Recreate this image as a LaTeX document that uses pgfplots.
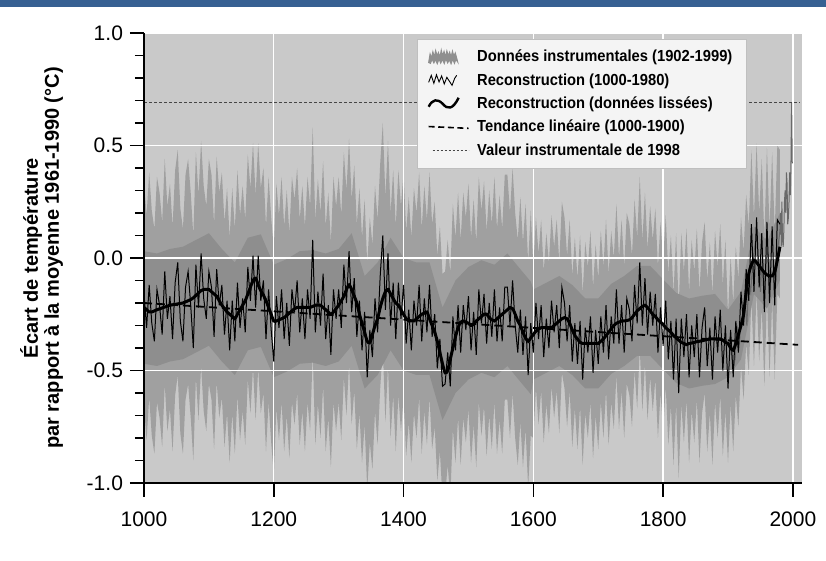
\documentclass[border=0pt]{standalone}
\usepackage{fontspec}
\setmainfont{Liberation Sans}
\newfontfamily\legfont{Liberation Sans}[FakeStretch=0.92]
\usepackage{pgfplots}
\pgfplotsset{compat=1.18}
\usepackage{pgfplotstable}
\usepgfplotslibrary{fillbetween}
\definecolor{headblue}{RGB}{55,96,146}
\definecolor{bggray}{RGB}{201,201,201}
\definecolor{bandgray}{RGB}{160,160,160}
\definecolor{coregray}{RGB}{142,142,142}
\definecolor{instgray}{RGB}{105,105,105}
\definecolor{dotgray}{RGB}{70,70,70}
\definecolor{leggray}{RGB}{244,244,244}

\pgfplotsset{
  layers/mylayers/.define layer set={axis background,pre main,axis grid,main,axis ticks,axis lines,axis tick labels,axis descriptions,axis foreground}{
    grid style={/pgfplots/on layer=axis grid},
    tick style={/pgfplots/on layer=axis ticks},
    axis line style={/pgfplots/on layer=axis lines},
    label style={/pgfplots/on layer=axis descriptions},
    legend style={/pgfplots/on layer=axis descriptions},
    title style={/pgfplots/on layer=axis descriptions},
    colorbar style={/pgfplots/on layer=axis descriptions},
    ticklabel style={/pgfplots/on layer=axis tick labels},
    axis background@ style={/pgfplots/on layer=axis background},
    3d box foreground style={/pgfplots/on layer=axis foreground},
  },
}

\pgfplotstableread{
year s r up lo
1000 -0.22 -0.16 0.34 -0.66
1004 -0.23 -0.31 0.19 -0.81
1008 -0.24 -0.12 0.38 -0.62
1012 -0.24 -0.29 0.21 -0.79
1016 -0.235 -0.37 0.13 -0.87
1020 -0.23 -0.14 0.36 -0.64
1024 -0.226 -0.21 0.29 -0.71
1028 -0.222 -0.34 0.16 -0.84
1032 -0.218 -0.06 0.44 -0.56
1036 -0.214 -0.27 0.23 -0.77
1040 -0.21 -0.17 0.33 -0.67
1044 -0.208 -0.36 0.14 -0.86
1048 -0.206 -0.11 0.39 -0.61
1052 -0.204 -0.02 0.48 -0.52
1056 -0.202 -0.28 0.22 -0.78
1060 -0.20 -0.37 0.13 -0.87
1064 -0.195 -0.13 0.37 -0.63
1068 -0.19 -0.06 0.44 -0.56
1072 -0.185 -0.21 0.29 -0.71
1076 -0.177 -0.40 0.10 -0.90
1080 -0.167 -0.03 0.47 -0.53
1084 -0.155 -0.22 0.28 -0.72
1088 -0.145 0.02 0.52 -0.48
1092 -0.14 -0.18 0.32 -0.68
1096 -0.14 -0.27 0.23 -0.77
1100 -0.14 -0.06 0.44 -0.56
1104 -0.15 -0.13 0.37 -0.63
1108 -0.16 -0.35 0.15 -0.85
1112 -0.17 -0.05 0.45 -0.55
1116 -0.19 -0.21 0.29 -0.71
1120 -0.21 -0.12 0.38 -0.62
1124 -0.225 -0.34 0.16 -0.84
1128 -0.24 -0.19 0.31 -0.69
1132 -0.25 -0.41 0.09 -0.91
1136 -0.26 -0.19 0.31 -0.69
1140 -0.27 -0.37 0.13 -0.87
1144 -0.25 -0.11 0.39 -0.61
1148 -0.23 -0.31 0.19 -0.81
1152 -0.21 -0.18 0.32 -0.68
1156 -0.19 -0.33 0.17 -0.83
1160 -0.16 -0.04 0.46 -0.54
1164 -0.13 -0.19 0.31 -0.69
1168 -0.10 0.01 0.51 -0.49
1172 -0.09 -0.22 0.28 -0.72
1176 -0.12 0.01 0.51 -0.49
1180 -0.145 -0.19 0.31 -0.69
1184 -0.165 -0.10 0.40 -0.60
1188 -0.19 -0.36 0.14 -0.86
1192 -0.22 -0.14 0.36 -0.64
1196 -0.25 -0.32 0.18 -0.82
1200 -0.28 -0.46 0.04 -0.96
1204 -0.28 -0.17 0.33 -0.67
1208 -0.275 -0.31 0.19 -0.81
1212 -0.27 -0.14 0.36 -0.64
1216 -0.265 -0.36 0.14 -0.86
1220 -0.255 -0.20 0.30 -0.70
1224 -0.245 -0.39 0.11 -0.89
1228 -0.235 -0.14 0.36 -0.64
1232 -0.225 -0.24 0.26 -0.74
1236 -0.22 -0.10 0.40 -0.60
1240 -0.22 -0.33 0.17 -0.83
1244 -0.22 -0.18 0.32 -0.68
1248 -0.22 -0.36 0.14 -0.86
1252 -0.22 -0.14 0.36 -0.64
1256 -0.22 -0.27 0.23 -0.77
1260 -0.215 0.08 0.58 -0.42
1264 -0.21 -0.33 0.17 -0.83
1268 -0.21 -0.15 0.35 -0.65
1272 -0.21 -0.30 0.20 -0.80
1276 -0.22 -0.07 0.43 -0.57
1280 -0.23 -0.36 0.14 -0.86
1284 -0.24 -0.21 0.29 -0.71
1288 -0.25 -0.43 0.07 -0.93
1292 -0.24 -0.14 0.36 -0.64
1296 -0.225 -0.27 0.23 -0.77
1300 -0.21 -0.14 0.36 -0.64
1304 -0.19 -0.31 0.19 -0.81
1308 -0.17 -0.03 0.47 -0.53
1312 -0.14 -0.20 0.30 -0.70
1316 -0.12 0.03 0.53 -0.47
1320 -0.14 -0.24 0.26 -0.74
1324 -0.17 -0.09 0.41 -0.59
1328 -0.20 -0.35 0.15 -0.85
1332 -0.25 -0.19 0.31 -0.69
1336 -0.29 -0.41 0.09 -0.91
1340 -0.33 -0.24 0.26 -0.74
1344 -0.37 -0.53 -0.03 -1.03
1348 -0.375 -0.32 0.18 -0.82
1352 -0.34 -0.44 0.06 -0.94
1356 -0.30 -0.18 0.32 -0.68
1360 -0.27 -0.33 0.17 -0.83
1364 -0.22 -0.08 0.42 -0.58
1368 -0.18 0.10 0.60 -0.40
1372 -0.15 -0.23 0.27 -0.73
1376 -0.14 0.02 0.52 -0.48
1380 -0.16 -0.30 0.20 -0.80
1384 -0.18 -0.11 0.39 -0.61
1388 -0.20 -0.36 0.14 -0.86
1392 -0.21 -0.11 0.39 -0.61
1396 -0.23 -0.27 0.23 -0.77
1400 -0.25 -0.12 0.38 -0.62
1404 -0.27 -0.38 0.12 -0.88
1408 -0.28 -0.23 0.27 -0.73
1412 -0.28 -0.41 0.09 -0.91
1416 -0.28 -0.19 0.31 -0.69
1420 -0.27 -0.30 0.20 -0.80
1424 -0.26 -0.12 0.38 -0.62
1428 -0.25 -0.37 0.13 -0.87
1432 -0.245 -0.18 0.32 -0.68
1436 -0.24 -0.33 0.17 -0.83
1440 -0.27 -0.12 0.38 -0.62
1444 -0.30 -0.35 0.15 -0.85
1448 -0.33 -0.25 0.25 -0.75
1452 -0.37 -0.49 0.01 -0.99
1456 -0.42 -0.36 0.14 -0.86
1460 -0.47 -0.57 -0.07 -1.07
1464 -0.51 -0.56 -0.06 -1.06
1468 -0.50 -0.42 0.08 -0.92
1472 -0.45 -0.57 -0.07 -1.07
1476 -0.40 -0.26 0.24 -0.76
1480 -0.35 -0.41 0.09 -0.91
1484 -0.31 -0.21 0.29 -0.71
1488 -0.285 -0.42 0.08 -0.92
1492 -0.28 -0.21 0.29 -0.71
1496 -0.285 -0.32 0.18 -0.82
1500 -0.29 -0.17 0.33 -0.67
1504 -0.30 -0.41 0.09 -0.91
1508 -0.295 -0.24 0.26 -0.74
1512 -0.28 -0.43 0.07 -0.93
1516 -0.27 -0.14 0.36 -0.64
1520 -0.26 -0.29 0.21 -0.79
1524 -0.25 -0.16 0.34 -0.66
1528 -0.25 -0.38 0.12 -0.88
1532 -0.265 -0.20 0.30 -0.70
1536 -0.275 -0.35 0.15 -0.85
1540 -0.28 -0.14 0.36 -0.64
1544 -0.27 -0.37 0.13 -0.87
1548 -0.26 -0.22 0.28 -0.72
1552 -0.25 -0.37 0.13 -0.87
1556 -0.24 -0.13 0.37 -0.63
1560 -0.23 -0.13 0.37 -0.63
1564 -0.22 -0.30 0.20 -0.80
1568 -0.225 -0.10 0.40 -0.60
1572 -0.25 -0.30 0.20 -0.80
1576 -0.28 -0.42 0.08 -0.92
1580 -0.30 -0.23 0.27 -0.73
1584 -0.33 -0.43 0.07 -0.93
1588 -0.355 -0.26 0.24 -0.76
1592 -0.37 -0.52 -0.02 -1.02
1596 -0.355 -0.29 0.21 -0.79
1600 -0.34 -0.42 -0.04 -0.80
1604 -0.325 -0.20 0.18 -0.58
1608 -0.315 -0.36 0.02 -0.74
1612 -0.31 -0.21 0.17 -0.59
1616 -0.31 -0.44 -0.06 -0.82
1620 -0.31 -0.27 0.11 -0.65
1624 -0.31 -0.40 -0.02 -0.78
1628 -0.31 -0.19 0.19 -0.57
1632 -0.30 -0.33 0.05 -0.71
1636 -0.29 -0.21 0.17 -0.59
1640 -0.28 -0.40 -0.02 -0.78
1644 -0.27 -0.13 0.25 -0.51
1648 -0.265 -0.20 0.18 -0.58
1652 -0.27 -0.37 0.01 -0.75
1656 -0.29 -0.21 0.17 -0.59
1660 -0.32 -0.46 -0.08 -0.84
1664 -0.345 -0.29 0.09 -0.67
1668 -0.36 -0.47 -0.09 -0.85
1672 -0.375 -0.28 0.10 -0.66
1676 -0.38 -0.54 -0.16 -0.92
1680 -0.38 -0.31 0.07 -0.69
1684 -0.38 -0.42 -0.04 -0.80
1688 -0.38 -0.26 0.12 -0.64
1692 -0.38 -0.51 -0.13 -0.89
1696 -0.38 -0.32 0.06 -0.70
1700 -0.38 -0.47 -0.09 -0.85
1704 -0.37 -0.26 0.12 -0.64
1708 -0.36 -0.42 -0.04 -0.80
1712 -0.345 -0.21 0.17 -0.59
1716 -0.33 -0.45 -0.07 -0.83
1720 -0.315 -0.26 0.12 -0.64
1724 -0.30 -0.38 0.00 -0.76
1728 -0.29 -0.14 0.24 -0.52
1732 -0.285 -0.38 0.00 -0.76
1736 -0.28 -0.21 0.17 -0.59
1740 -0.28 -0.42 -0.04 -0.80
1744 -0.278 -0.18 0.20 -0.56
1748 -0.275 -0.23 0.15 -0.61
1752 -0.265 -0.37 0.01 -0.75
1756 -0.25 -0.12 0.26 -0.50
1760 -0.235 -0.29 0.09 -0.67
1764 -0.225 -0.02 0.36 -0.40
1768 -0.215 -0.30 0.08 -0.68
1772 -0.21 -0.09 0.29 -0.47
1776 -0.22 -0.34 0.04 -0.72
1780 -0.235 -0.15 0.23 -0.53
1784 -0.25 -0.30 0.08 -0.68
1788 -0.26 -0.16 0.22 -0.54
1792 -0.275 -0.42 -0.04 -0.80
1796 -0.285 -0.22 0.16 -0.60
1800 -0.295 -0.39 -0.01 -0.77
1804 -0.31 -0.19 0.19 -0.57
1808 -0.32 -0.45 -0.07 -0.83
1812 -0.33 -0.28 0.10 -0.66
1816 -0.345 -0.54 -0.16 -0.92
1820 -0.355 -0.27 0.11 -0.65
1824 -0.365 -0.60 -0.22 -0.98
1828 -0.375 -0.27 0.11 -0.65
1832 -0.38 -0.44 -0.06 -0.82
1836 -0.385 -0.25 0.13 -0.63
1840 -0.38 -0.53 -0.15 -0.91
1844 -0.378 -0.30 0.08 -0.68
1848 -0.375 -0.44 -0.06 -0.82
1852 -0.372 -0.25 0.13 -0.63
1856 -0.37 -0.53 -0.15 -0.91
1860 -0.368 -0.31 0.07 -0.69
1864 -0.365 -0.22 0.16 -0.60
1868 -0.362 -0.48 -0.10 -0.86
1872 -0.36 -0.31 0.07 -0.69
1876 -0.36 -0.54 -0.16 -0.92
1880 -0.36 -0.26 0.12 -0.64
1884 -0.36 -0.42 -0.04 -0.80
1888 -0.36 -0.23 0.15 -0.61
1892 -0.365 -0.50 -0.12 -0.88
1896 -0.375 -0.30 0.08 -0.68
1900 -0.38 -0.58 -0.25 -0.91
1904 -0.40 -0.32 0.01 -0.65
1908 -0.41 -0.53 -0.20 -0.86
1912 -0.38 -0.28 0.05 -0.61
1916 -0.34 -0.42 -0.09 -0.75
1920 -0.30 -0.15 0.18 -0.48
1924 -0.25 -0.30 0.03 -0.63
1928 -0.15 -0.05 0.28 -0.38
1932 -0.07 -0.19 0.14 -0.52
1936 -0.03 0.15 0.48 -0.18
1940 -0.01 -0.15 0.18 -0.48
1944 -0.02 0.18 0.51 -0.15
1948 -0.035 -0.13 0.20 -0.46
1952 -0.05 0.11 0.44 -0.22
1956 -0.065 -0.24 0.09 -0.57
1960 -0.075 0.16 0.49 -0.17
1964 -0.08 -0.20 0.13 -0.53
1968 -0.08 0.14 0.47 -0.19
1972 -0.06 -0.21 0.12 -0.54
1976 -0.01 0.17 0.50 -0.16
1980 0.05 0.15 0.48 -0.18
}\recon

\pgfplotstableread{
year cu cl
1000 0.03 -0.47
1020 0.02 -0.48
1040 0.04 -0.46
1060 0.05 -0.45
1080 0.08 -0.42
1100 0.11 -0.39
1120 0.04 -0.46
1140 -0.02 -0.52
1160 0.09 -0.41
1180 0.105 -0.395
1200 -0.03 -0.53
1220 -0.005 -0.505
1240 0.03 -0.47
1260 0.035 -0.465
1280 0.02 -0.48
1300 0.04 -0.46
1320 0.11 -0.39
1340 -0.08 -0.58
1360 -0.02 -0.52
1380 0.09 -0.41
1400 0.00 -0.50
1420 -0.02 -0.52
1440 -0.02 -0.52
1460 -0.22 -0.72
1480 -0.10 -0.60
1500 -0.04 -0.54
1520 -0.01 -0.51
1540 -0.03 -0.53
1560 0.02 -0.48
1580 -0.05 -0.55
1596 -0.105 -0.605
1600 -0.14 -0.54
1620 -0.11 -0.51
1640 -0.08 -0.48
1660 -0.12 -0.52
1680 -0.18 -0.58
1700 -0.18 -0.58
1720 -0.115 -0.515
1740 -0.08 -0.48
1760 -0.035 -0.435
1780 -0.035 -0.435
1800 -0.095 -0.495
1820 -0.155 -0.555
1840 -0.18 -0.58
1860 -0.168 -0.568
1880 -0.16 -0.56
1900 -0.23 -0.53
1920 -0.15 -0.45
1940 0.14 -0.16
1960 0.075 -0.225
1980 0.20 -0.10
}\core

\pgfplotstableread{
year t
1902 -0.35
1905 -0.42
1908 -0.48
1911 -0.45
1914 -0.30
1917 -0.40
1920 -0.28
1923 -0.25
1926 -0.18
1929 -0.30
1932 -0.10
1935 -0.15
1938 -0.02
1941 0.05
1944 0.10
1947 -0.02
1950 -0.15
1953 0.02
1956 -0.15
1959 0.00
1962 0.02
1965 -0.12
1968 -0.06
1971 -0.08
1974 -0.10
1977 0.05
1980 0.12
1981 0.20
1982 0.05
1983 0.25
1984 0.08
1985 0.05
1986 0.12
1987 0.25
1988 0.30
1989 0.20
1990 0.38
1991 0.33
1992 0.15
1993 0.18
1994 0.25
1995 0.38
1996 0.28
1997 0.42
1998 0.69
1999 0.42
}\inst

\begin{document}
\begin{tikzpicture}
\begin{axis}[
  set layers=mylayers,
  at={(72pt,39pt)}, anchor=south west,
  scale only axis, width=329pt, height=225pt,
  xmin=1000, xmax=2014, ymin=-1, ymax=1,
  axis lines=left,
  axis line style={-, line width=0.8pt, black},
  axis background/.style={fill=bggray},
  tick align=outside,
  major tick length=7pt, minor tick length=4.5pt,
  every tick/.style={black, line width=0.75pt},
  xtick={1000,1200,1400,1600,1800,2000},
  xticklabels={1000,1200,1400,1600,1800,2000},
  ytick={-1,-0.5,0,0.5,1},
  yticklabels={-1.0,-0.5,0.0,0.5,1.0},
  minor y tick num=4,
  xmajorgrids, ymajorgrids,
  grid style={white, line width=0.7pt},
  tick label style={font=\fontsize{10.5}{12}\selectfont},
  xticklabel style={yshift=-4pt},
  yticklabel style={xshift=0pt},
  ylabel={Écart de température\\par rapport à la moyenne 1961-1990 (°C)},
  ylabel style={at={(axis description cs:-0.1558,0.5)}, anchor=center, align=center, font=\bfseries\fontsize{10}{10.5}\selectfont},
  legend cell align=left,
  legend style={at={(0.415,0.987)}, anchor=north west,
    font=\legfont\bfseries\fontsize{8}{9}\selectfont,
    fill=leggray, draw=black!25, line width=0.4pt,
    inner xsep=5pt, inner ysep=3pt,
    /tikz/every odd column/.append style={column sep=1.5pt},
    /tikz/every even column/.append style={text height=6.2pt, text depth=1.8pt, inner ysep=1.75pt},
  },
]
\addplot[name path=U, draw=none, forget plot] table[x=year, y=up] {\recon};
\addplot[name path=L, draw=none, forget plot] table[x=year, y=lo] {\recon};
\addplot[bandgray, forget plot] fill between[of=U and L];
\addplot[name path=CU, draw=none, forget plot] table[x=year, y=cu] {\core};
\addplot[name path=CL, draw=none, forget plot] table[x=year, y=cl] {\core};
\addplot[coregray, forget plot] fill between[of=CU and CL];

\addplot[instgray, line width=0.5pt,
  legend image code/.code={
    \fill[instgray!75] (0pt,-2.8pt) -- (0.7pt,1.5pt) -- (1.4pt,-0.5pt) -- (2.1pt,2.6pt) -- (2.8pt,0pt) -- (3.5pt,3.2pt) -- (4.2pt,0.5pt) -- (4.9pt,2.2pt) -- (5.6pt,-0.3pt) -- (6.3pt,3.4pt) -- (7pt,0.4pt) -- (7.7pt,2.8pt) -- (8.4pt,0pt) -- (9.1pt,3pt) -- (9.8pt,0.6pt) -- (10.5pt,2.4pt) -- (11.2pt,-0.2pt) -- (11.9pt,2.9pt) -- (12.6pt,0.3pt) -- (13.3pt,2pt) -- (14pt,-0.5pt) -- (14.5pt,-2.5pt) -- (13.6pt,-1.2pt) -- (12.9pt,-3.2pt) -- (12pt,-1pt) -- (11.2pt,-3.4pt) -- (10.3pt,-1.4pt) -- (9.5pt,-3pt) -- (8.6pt,-0.9pt) -- (7.8pt,-3.3pt) -- (6.9pt,-1.2pt) -- (6pt,-3.1pt) -- (5.2pt,-1pt) -- (4.3pt,-3.4pt) -- (3.4pt,-1.3pt) -- (2.6pt,-3pt) -- (1.7pt,-1.1pt) -- (0.9pt,-3.2pt) -- cycle;
    \path (20pt,0pt);
  }] table[x=year, y=t] {\inst};
\addlegendentry{Données instrumentales (1902-1999)}

\addplot[black, line width=0.5pt,
  legend image code/.code={
    \draw[black, line width=0.45pt] (0pt,-1pt) -- (1.3pt,2.5pt) -- (2.6pt,-1.5pt) -- (3.9pt,2.8pt) -- (5.2pt,-0.8pt) -- (6.5pt,2.2pt) -- (7.8pt,-1.8pt) -- (9.1pt,1.5pt) -- (10.4pt,-0.5pt) -- (11.7pt,-2.5pt) -- (13pt,1pt) -- (14pt,2.5pt);
    \path (20pt,0pt);
  }] table[x=year, y=r] {\recon};
\addlegendentry{Reconstruction (1000-1980)}

\addplot[black, line width=1.5pt, smooth,
  legend image code/.code={
    \draw[black, line width=1.2pt] (0pt,-1.5pt) .. controls (2pt,2.5pt) and (4.5pt,2.5pt) .. (7pt,0pt) .. controls (9.5pt,-3pt) and (12pt,-3pt) .. (15pt,3pt);
    \path (20pt,0pt);
  }] table[x=year, y=s] {\recon};
\addlegendentry{Reconstruction (données lissées)}

\addplot[black, line width=0.9pt, dash pattern=on 4pt off 2.5pt,
  legend image code/.code={
    \draw[black, line width=0.8pt, dash pattern=on 3pt off 1.8pt] (0pt,0.3pt) -- (20pt,-0.6pt);
  }] coordinates {(1000,-0.20) (2008,-0.386)};
\addlegendentry{Tendance linéaire (1000-1900)}

\addplot[dotgray, line width=0.5pt, dash pattern=on 1.5pt off 1pt,
  legend image code/.code={
    \draw[dotgray, line width=0.5pt, dash pattern=on 1.2pt off 0.8pt] (2pt,0pt) -- (20pt,0pt);
  }] coordinates {(1000,0.69) (2011,0.69)};
\addlegendentry{Valeur instrumentale de 1998}
\end{axis}
\fill[headblue] (0pt,277pt) rectangle (413pt,280.5pt);
\path (0pt,0pt) rectangle (413pt,280.5pt);
\end{tikzpicture}
\end{document}
